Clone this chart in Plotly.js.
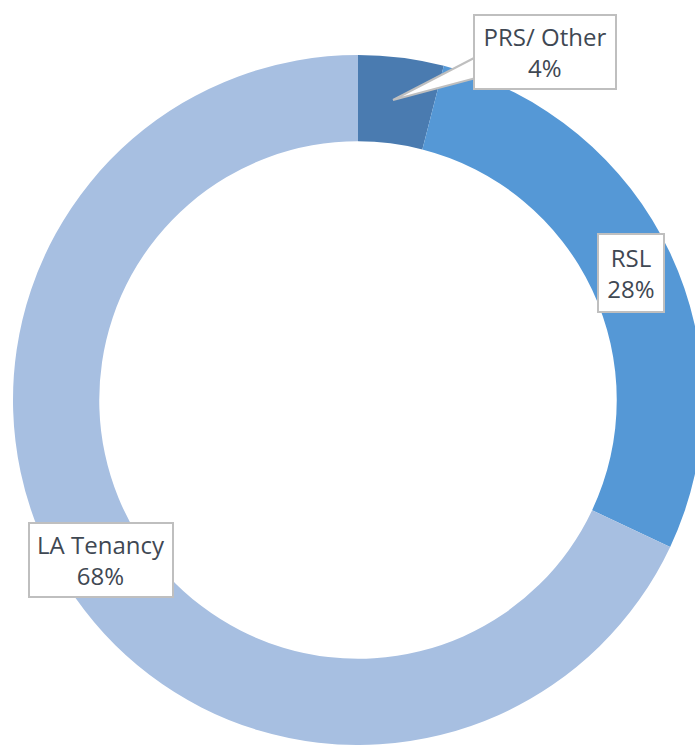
<!DOCTYPE html>
<html>
<head>
<meta charset="utf-8">
<script src="https://cdn.plot.ly/plotly-3.0.1.min.js"></script>
<style>
html,body{margin:0;padding:0;overflow:hidden;background:#fff;}
#chart{width:720px;height:745px;}
</style>
</head>
<body>
<div id="chart"></div>
<script>
const categories = ["PRS/ Other", "RSL", "LA Tenancy"];
const shares = [4, 28, 68];
const sliceColors = ["#4a7bb0", "#5598d6", "#a7bfe1"];

const W = 720, H = 745;
const px = x => x / W;
const py = y => 1 - y / H;

const trace = {
  type: "pie",
  labels: categories,
  values: shares,
  sort: false,
  direction: "clockwise",
  rotation: 0,
  hole: 0.75,
  textinfo: "none",
  hoverinfo: "skip",
  marker: {colors: sliceColors, line: {width: 0}},
  domain: {x: [px(13), px(703)], y: [py(745), py(55)]},
  showlegend: false
};

const font = {family: "Open Sans, Noto Sans, sans-serif", size: 24, color: "#3f4853"};
const box = {bgcolor: "#ffffff", bordercolor: "#bfbfbf", borderwidth: 2, font: font, xref: "paper", yref: "paper", xanchor: "center", yanchor: "middle", align: "center", showarrow: false};

const annotations = [
  Object.assign({}, box, {
    text: categories[0] + "<br>" + shares[0] + "%",
    x: px(545), y: py(52), width: 136, height: 68, borderpad: 2
  }),
  Object.assign({}, box, {
    text: categories[1] + "<br>" + shares[1] + "%",
    x: px(631), y: py(273), width: 60, height: 72, borderpad: 2
  }),
  Object.assign({}, box, {
    text: categories[2] + "<br>" + shares[2] + "%",
    x: px(101), y: py(560), width: 138, height: 68, borderpad: 2
  })
];

// callout wedge for the small slice label
const wedge = {
  type: "path", xref: "paper", yref: "paper", layer: "above",
  path: "M " + px(476) + "," + py(57) + " L " + px(393) + "," + py(100) + " L " + px(476) + "," + py(78) + " Z",
  fillcolor: "#ffffff", line: {color: "#bfbfbf", width: 2}
};

Plotly.newPlot("chart", [trace], {
  width: W, height: H,
  margin: {l: 0, r: 0, t: 0, b: 0},
  paper_bgcolor: "#ffffff",
  annotations: annotations,
  shapes: [wedge]
}, {displayModeBar: false, staticPlot: true});
</script>
</body>
</html>
